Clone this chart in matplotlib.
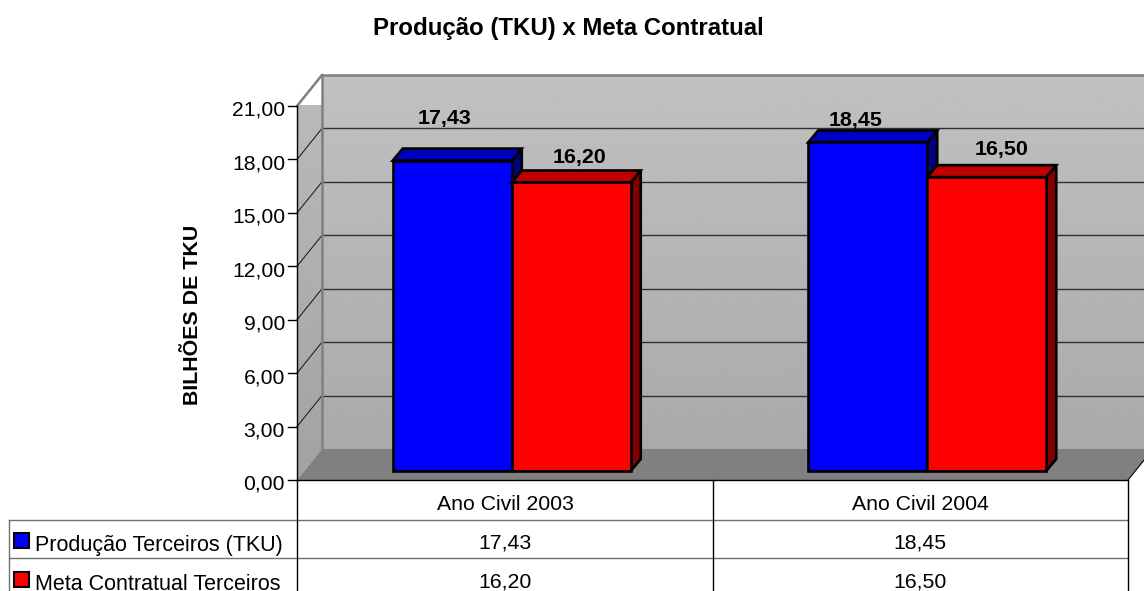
import numpy as np
import matplotlib
matplotlib.use("Agg")
import matplotlib.pyplot as plt
from matplotlib.patches import Polygon, Rectangle
from matplotlib.transforms import Affine2D

plt.rcParams['font.family'] = ['Liberation Sans', 'DejaVu Sans']

categories = ['Ano Civil 2003', 'Ano Civil 2004']
series_names = ['Produção Terceiros (TKU)', 'Meta Contratual Terceiros']
producao = [17.43, 18.45]
meta = [16.20, 16.50]
y_ticks = [0, 3, 6, 9, 12, 15, 18, 21]
title = 'Produção (TKU) x Meta Contratual'
y_title = 'BILHÕES DE TKU'


def br(v):
    return f'{v:.2f}'.replace('.', ',')


W, H = 1144, 591
fig = plt.figure(figsize=(W / 100, H / 100), dpi=100, facecolor='white')
L, R, T, B = 297, 1128, 106, 480
ax = fig.add_axes([L / W, 1 - B / H, (R - L) / W, (B - T) / H])
ax.axis('off')
ax.set_xlim(0, 2)
ax.set_ylim(0, 21)
px = Affine2D().scale(1, -1).translate(0, H)  # layout coordinates, top-left origin


def off(dx, dy):
    return ax.transData + Affine2D().translate(dx, dy)


DX, DY = 25, 31           # depth of the chart box
xpx = 2 / (R - L)         # one pixel in x data units
ypx = 21 / (B - T)

# back wall gradient
grad = np.linspace(0.755, 0.665, 256).reshape(-1, 1)
wall = ax.imshow(grad, extent=(0, 2.1, 0, 21), aspect='auto', cmap='gray', vmin=0, vmax=1,
                 transform=off(DX, DY), zorder=1, clip_on=False, interpolation='bilinear')
# left wall gradient
grad2 = np.linspace(0.735, 0.635, 256).reshape(-1, 1)
lw_im = ax.imshow(grad2, extent=(0, DX * xpx, 0, 21 + DY * ypx), aspect='auto', cmap='gray',
                  vmin=0, vmax=1, transform=ax.transData, zorder=1.5, clip_on=True,
                  interpolation='bilinear')
left_poly = Polygon([(0, 0), (0, 21), (DX * xpx, 21 + DY * ypx), (DX * xpx, DY * ypx)],
                    closed=True, transform=ax.transData, fc='none', ec='none', clip_on=False)
ax.add_patch(left_poly)
lw_im.set_clip_box(None)
lw_im.set_clip_path(left_poly)
ax.set_xlim(0, 2)
ax.set_ylim(0, 21)

# gridlines on back wall and left wall
for t in y_ticks[1:-1]:
    ax.plot([0, 2.1], [t, t], color='#303030', lw=1.0, transform=off(DX, DY), zorder=2, clip_on=False)
    ax.plot([0, DX * xpx], [t, t + DY * ypx], color='#1a1a1a', lw=0.75, zorder=2.5, clip_on=False)
# wall borders
ax.plot([0, 2.1], [21, 21], color='#808080', lw=1.8, transform=off(DX, DY), zorder=2.6, clip_on=False)
ax.plot([0, 0], [0, 21], color='#808080', lw=1.8, transform=off(DX, DY), zorder=2.6, clip_on=False)
ax.plot([0, DX * xpx], [21, 21 + DY * ypx], color='#808080', lw=1.8, zorder=2.6, clip_on=False)

# floor
floor = Polygon([(0, 0), (DX * xpx, DY * ypx), (2 + DX * xpx, DY * ypx), (2, 0)], closed=True,
                fc='#808080', ec='none', zorder=3, clip_on=False)
ax.add_patch(floor)
ax.plot([2, 2 + DX * xpx], [0, DY * ypx], color='black', lw=0.8, zorder=3.1, clip_on=False)

# bars
BW = 119 * xpx
BX, BY = 10, 12
BASE_DY = 9
CENTRE_SHIFT = 7 * xpx
face = [('#0000ff', '#0000c0', '#000080'), ('#ff0000', '#c00000', '#800000')]
for i in range(len(categories)):
    centre = i + 0.5 + CENTRE_SHIFT
    left_x = centre - BW
    for s, vals in enumerate([producao, meta]):
        v = vals[i]
        x0 = left_x + s * BW
        x1 = x0 + BW
        tr = off(0, BASE_DY)
        d_x, d_y = BX * xpx, BY * ypx
        fc, top, side = face[s]
        kw = dict(ec='black', lw=1.9, joinstyle='miter', transform=tr, zorder=4 + s * 0.1, clip_on=False)
        ax.add_patch(Polygon([(x1, 0), (x1 + d_x, d_y), (x1 + d_x, v + d_y), (x1, v)], fc=side, **kw))
        ax.add_patch(Polygon([(x0, v), (x0 + d_x, v + d_y), (x1 + d_x, v + d_y), (x1, v)], fc=top, **kw))
        ax.add_patch(Rectangle((x0, 0), BW, v, fc=fc, **kw))

# data labels (offset from the top of each bar, in pixels)
label_shift = [[(-8, 42.5), (-12, 22)], [(8, 25), (15, 28)]]
for s, vals in enumerate([producao, meta]):
    for i, v in enumerate(vals):
        x = i + 0.5 + CENTRE_SHIFT - BW + s * BW + BW / 2
        dx, dy = label_shift[s][i]
        ax.text(x, v, br(v), transform=off(dx, BASE_DY + dy), ha='center', va='center',
                fontsize=15.4, fontweight='bold', color='black', zorder=6, clip_on=False)

# y axis
ax.plot([0, 0], [0, 21], color='black', lw=1.0, zorder=5, clip_on=False)
ax.plot([0, 2], [0, 0], color='black', lw=1.0, zorder=5, clip_on=False)
for t in y_ticks:
    ax.plot([-9 * xpx, 0], [t, t], color='black', lw=1.0, zorder=5, clip_on=False)
    ax.text(-12 * xpx, t, br(t), transform=off(0, -4.5), ha='right', va='center', fontsize=15.2,
            color='black', clip_on=False)

# title texts
fig.text(568, 29, title, transform=px, ha='center', va='center', fontsize=17.3, fontweight='bold')
fig.text(192, 315, y_title, transform=px, ha='center', va='center', rotation=90, fontsize=15.4,
         fontweight='bold')

# data table
GRAY = '#707070'
row_y = [519.5, 557.5]
centers_x = [505, 920]
for y in row_y:
    fig.add_artist(plt.Line2D([9, R], [y, y], transform=px, color=GRAY, lw=1.0))
for x in [L, 712.5, R]:
    fig.add_artist(plt.Line2D([x, x], [B, H], transform=px, color='black', lw=1.0))
fig.add_artist(plt.Line2D([9, 9], [row_y[0], H], transform=px, color=GRAY, lw=1.0))

for cx, c in zip(centers_x, categories):
    fig.text(cx, 505, c, transform=px, ha='center', va='center', fontsize=15.3)
row_text_y = [543, 582]
for ry, name, vals, (fc, _, _) in zip(row_text_y, series_names, [producao, meta], face):
    fig.text(35, ry + 2, name, transform=px, ha='left', va='center', fontsize=15.5)
    fig.add_artist(Rectangle((14, ry - 10), 15, 15, transform=px, fc=fc, ec='black', lw=1.5))
    for cx, v in zip(centers_x, vals):
        fig.text(cx, ry, br(v), transform=px, ha='center', va='center', fontsize=15.3)

fig.savefig('out.png', dpi=100)
